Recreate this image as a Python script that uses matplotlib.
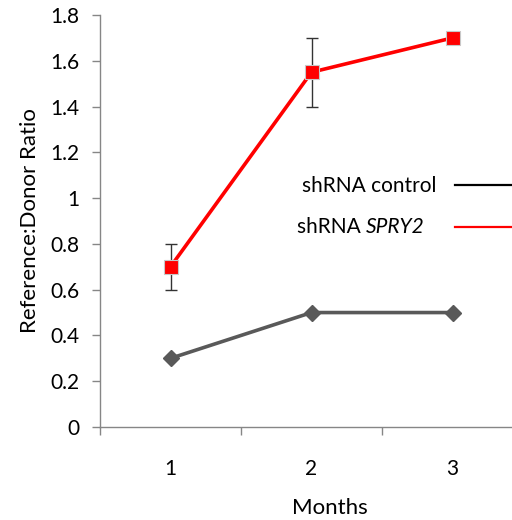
import matplotlib
matplotlib.use("Agg")
import matplotlib.pyplot as plt
from matplotlib.lines import Line2D

plt.rcParams['font.family'] = ['Lato', 'DejaVu Sans']

months = [1, 2, 3]
month_labels = ["1", "2", "3"]
control = [0.3, 0.5, 0.5]
spry2 = [0.7, 1.55, 1.7]
spry2_err = [0.1, 0.15, 0.0]
yticks = [0, 0.2, 0.4, 0.6, 0.8, 1.0, 1.2, 1.4, 1.6, 1.8]
ytick_labels = ["0", "0.2", "0.4", "0.6", "0.8", "1", "1.2", "1.4", "1.6", "1.8"]

W, H = 512, 520
FS = 15
fig = plt.figure(figsize=(W / 100, H / 100), dpi=100)
ax = fig.add_axes([100 / W, 1 - 427 / H, 423 / W, 412 / H])

axis_grey = "#868686"

ax.plot(months, control, color="#595959", lw=2.6, marker="D", ms=8,
        mec="#595959", mfc="#595959", zorder=3, clip_on=False)

# error bars only where a spread was measured
err_x = [m for m, e in zip(months, spry2_err) if e > 0]
err_y = [v for v, e in zip(spry2, spry2_err) if e > 0]
err_e = [e for e in spry2_err if e > 0]
ax.errorbar(err_x, err_y, yerr=err_e, fmt="none", ecolor="#333333",
            elinewidth=1.0, capsize=4.5, capthick=1.0, zorder=2)
ax.plot(months, spry2, color="#ff0000", lw=2.6, marker="s", ms=9.5,
        mfc="#ff0000", mec="#c8c8c8", mew=0.8, zorder=4, clip_on=False)

ax.set_xlim(0.5, 3.5)
ax.set_ylim(0, 1.8)

for s in ["top", "right"]:
    ax.spines[s].set_visible(False)
for s in ["left", "bottom"]:
    ax.spines[s].set_color(axis_grey)
    ax.spines[s].set_linewidth(1.0)

ax.set_yticks(yticks)
ax.set_yticklabels(ytick_labels)
ax.tick_params(axis="y", direction="out", length=6, width=1.0,
               color=axis_grey, labelsize=FS, pad=9)

ax.set_xticks(months)
ax.set_xticklabels(month_labels)
ax.set_xticks([0.5, 1.5, 2.5, 3.5], minor=True)
ax.tick_params(axis="x", which="major", length=0, labelsize=FS, pad=23)
ax.tick_params(axis="x", which="minor", direction="out", length=6,
               width=1.0, color=axis_grey)

ax.set_ylabel("Reference:Donor Ratio", fontsize=FS + 1)
ax.yaxis.set_label_coords(-60 / 423, 0.5)
ax.set_xlabel("Months", fontsize=FS + 1)
ax.xaxis.set_label_coords((330 - 100) / 423, -(498 - 427) / 412)

# legend: labels on the left, line samples on the right
fig.text(437 / W, 1 - 186 / H, "shRNA control", ha="right", va="center",
         fontsize=FS)
t = fig.text(297 / W, 1 - 227 / H, "shRNA ", ha="left", va="center",
             fontsize=FS)
ax.annotate("SPRY2", xy=(1, 0.5), xycoords=t, ha="left", va="center",
            fontsize=FS, fontstyle="italic", annotation_clip=False)
fig.add_artist(Line2D([455 / W, 1.0], [1 - 185 / H, 1 - 185 / H],
                      transform=fig.transFigure, color="black", lw=1.6))
fig.add_artist(Line2D([455 / W, 1.0], [1 - 227 / H, 1 - 227 / H],
                      transform=fig.transFigure, color="#ff0000", lw=1.6))

fig.savefig("out.png", dpi=100)
